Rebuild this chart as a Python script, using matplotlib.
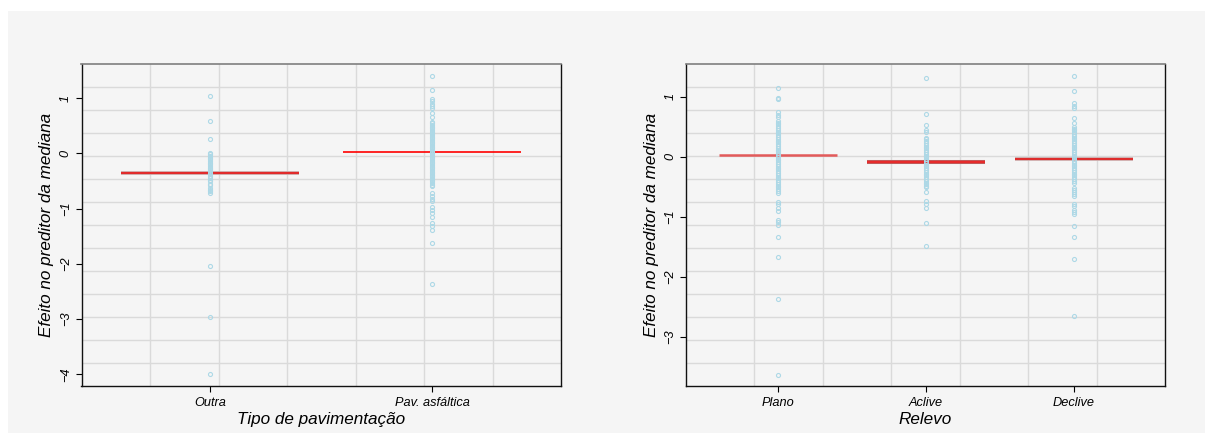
import matplotlib
matplotlib.use("Agg")
import matplotlib.pyplot as plt
from matplotlib.patches import Rectangle
import numpy as np

plt.rcParams['font.family'] = ['Liberation Sans', 'DejaVu Sans']

# ---- Panel 1: Tipo de pavimentação ----
pav_categories = ["Outra", "Pav. asfáltica"]
pav_outra = [1.04, 0.58, 0.25,
             0.01, -0.02, -0.05, -0.08, -0.11, -0.14, -0.17, -0.20, -0.23,
             -0.26, -0.29, -0.32, -0.35, -0.38, -0.41, -0.45, -0.48, -0.51,
             -0.55, -0.58, -0.62, -0.66, -0.69, -0.72,
             -2.04, -2.97, -4.00]
pav_asfaltica = [1.40, 1.14, 0.99, 0.95, 0.90, 0.85, 0.81, 0.72, 0.66,
                 0.57, 0.54, 0.51, 0.48, 0.45, 0.42, 0.39, 0.36, 0.33, 0.30,
                 0.27, 0.24, 0.21, 0.18, 0.15, 0.12, 0.09, 0.06, 0.03, 0.00,
                 -0.03, -0.06, -0.09, -0.12, -0.15, -0.18, -0.21, -0.24, -0.27,
                 -0.30, -0.33, -0.36, -0.39, -0.42, -0.45, -0.48, -0.51, -0.54,
                 -0.57, -0.60,
                 -0.72, -0.77, -0.82, -0.87, -0.97, -1.02, -1.08, -1.15,
                 -1.26, -1.32, -1.39, -1.63, -2.36]
pav_means = [-0.35, 0.02]

# ---- Panel 2: Relevo ----
rel_categories = ["Plano", "Aclive", "Declive"]
rel_plano = [1.15, 0.98, 0.96, 0.74, 0.70, 0.66,
             0.60, 0.57, 0.54, 0.51, 0.48, 0.45, 0.42, 0.39, 0.36, 0.33,
             0.30, 0.27, 0.24, 0.21, 0.18, 0.15, 0.12, 0.09, 0.06, 0.03,
             0.00, -0.03, -0.06, -0.09, -0.12, -0.15, -0.18, -0.21, -0.24,
             -0.27, -0.30, -0.33, -0.36, -0.39, -0.42, -0.45, -0.48, -0.51,
             -0.54, -0.57, -0.61,
             -0.75, -0.79, -0.86, -0.91, -1.05, -1.09, -1.13, -1.33,
             -1.67, -2.37, -3.63]
rel_aclive = [1.32, 0.72, 0.53, 0.45, 0.41,
              0.32, 0.29, 0.26, 0.23, 0.20, 0.17, 0.14, 0.11, 0.08, 0.05,
              0.02, -0.01, -0.04, -0.07, -0.10, -0.13, -0.16, -0.19, -0.22,
              -0.25, -0.28, -0.31, -0.34, -0.37, -0.40, -0.43, -0.46, -0.49,
              -0.51,
              -0.58, -0.74, -0.79, -0.85, -1.10, -1.49]
rel_declive = [1.35, 1.09, 0.89, 0.85, 0.82, 0.65, 0.57, 0.50,
               0.47, 0.44, 0.41, 0.38, 0.35, 0.32, 0.29, 0.26, 0.23, 0.20,
               0.17, 0.14, 0.11, 0.08, 0.05, 0.02, -0.01, -0.04, -0.07,
               -0.10, -0.13, -0.16, -0.19, -0.22, -0.25, -0.28, -0.31, -0.34,
               -0.37, -0.40, -0.44,
               -0.52, -0.56, -0.59, -0.62, -0.66,
               -0.78, -0.82, -0.88, -0.92, -0.96, -1.15, -1.33, -1.70, -2.66]
rel_means = [0.023, -0.088, -0.04]

BG = "#f5f5f5"
GRID = "#dadada"
POINT = "#add8e6"

fig = plt.figure(figsize=(12.05, 4.33), dpi=100, facecolor="white")
fig.patches.append(Rectangle((8 / 1205, 0), 1, (433 - 11) / 433,
                             transform=fig.transFigure, facecolor=BG,
                             edgecolor="none", zorder=-10))

# line styles for the group means: (halo colour, halo width, line colour, line width)
mean_styles_pav = [("#cfaaaa", 2.8, "#e41f1f", 1.3),
                   (None, 0, "#ff0000", 1.2)]
mean_styles_rel = [(None, 0, "#e25a5a", 1.8),
                   ("#c05a5a", 2.9, "#e82a2a", 1.4),
                   ("#cfaaaa", 2.7, "#e02020", 1.3)]


def panel(rect, categories, groups, means, styles, xlim, ylim, xlabel):
    ax = fig.add_axes(rect)
    ax.set_facecolor(BG)
    ax.set_xlim(*xlim)
    ax.set_ylim(*ylim)
    # evenly spaced background grid
    for gx in np.linspace(xlim[0], xlim[1], 8)[1:-1]:
        ax.axvline(gx, color=GRID, lw=1.0, zorder=0)
    for gy in np.linspace(ylim[0], ylim[1], 15)[1:-1]:
        ax.axhline(gy, color=GRID, lw=1.0, zorder=0)
    pos = np.arange(1, len(categories) + 1)
    for p, m, st in zip(pos, means, styles):
        halo_c, halo_w, c, w = st
        if halo_c:
            ax.hlines(m, p - 0.4, p + 0.4, color=halo_c, lw=halo_w, zorder=2)
        ax.hlines(m, p - 0.4, p + 0.4, color=c, lw=w, zorder=3)
    for p, vals in zip(pos, groups):
        ax.plot(np.full(len(vals), p), vals, linestyle="none", marker="o",
                markersize=2.9, markerfacecolor="none",
                markeredgecolor=POINT, markeredgewidth=0.8, zorder=4)
    ax.set_xticks(pos)
    ax.set_xticklabels(categories, fontsize=9.2, style="italic")
    yt = np.arange(np.ceil(ylim[0]), np.floor(ylim[1]) + 1).astype(int)
    ax.set_yticks(yt)
    ax.set_yticklabels([str(v).replace("-", "\u2212") for v in yt],
                       fontsize=9.2, style="italic", rotation=90, va="center")
    ax.tick_params(axis="both", direction="out", length=4, width=0.8,
                   color="black")
    ax.tick_params(axis="x", pad=4)
    ax.tick_params(axis="y", pad=3)
    for side in ("left", "bottom", "right"):
        ax.spines[side].set_color("#111111")
        ax.spines[side].set_linewidth(1.0)
    ax.spines["top"].set_color("#7f7f7f")
    ax.spines["top"].set_linewidth(1.2)
    ax.set_xlabel(xlabel, fontsize=12.3, style="italic", labelpad=2)
    ax.set_ylabel("Efeito no preditor da mediana", fontsize=12.3,
                  style="italic", labelpad=4)
    return ax


panel([81.5 / 1205, 47 / 433, 479.5 / 1205, 322 / 433],
      pav_categories, [pav_outra, pav_asfaltica], pav_means, mean_styles_pav,
      (0.42, 2.58), (-4.21, 1.615), "Tipo de pavimentação")
panel([686 / 1205, 47 / 433, 479 / 1205, 322 / 433],
      rel_categories, [rel_plano, rel_aclive, rel_declive], rel_means,
      mean_styles_rel, (0.38, 3.615), (-3.82, 1.545), "Relevo")

fig.savefig("out.png", dpi=100, facecolor=fig.get_facecolor())
